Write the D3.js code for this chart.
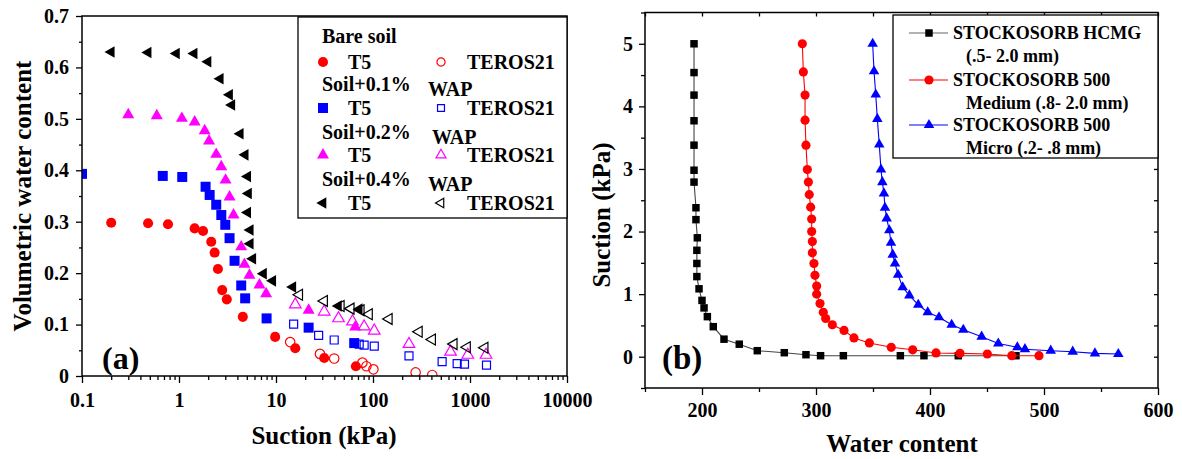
<!DOCTYPE html>
<html>
<head>
<meta charset="utf-8">
<script src="https://cdn.jsdelivr.net/npm/d3@7"></script>
<style>
  body { margin: 0; background: #fff; }
  svg { display: block; }
  text { font-family: 'Liberation Serif', 'Times New Roman', serif; font-weight: bold; fill: #000; }
  .tick text { font-size: 20px; }
</style>
</head>
<body>
<svg id="chart"></svg>
<script>
// ---- (a) suction vs volumetric water content, [suction kPa, vwc] ----
const bareT5 = [[0.2,0.298],[0.48,0.297],[0.77,0.295],[1.45,0.287],[1.77,0.282],[2.15,0.261],[2.33,0.240],[2.52,0.208],[2.79,0.167],[3.11,0.149],[4.55,0.115],[9.8,0.076],[15.8,0.054],[31.4,0.035],[66.6,0.019]]
const bareTeros = [[14,0.066],[28.4,0.043],[39.8,0.034],[77.8,0.026],[85.5,0.019],[101,0.013],[275,0.007],[408,0.002]]
const wap01T5 = [[0.1,0.393],[0.68,0.389],[1.08,0.387],[1.88,0.368],[2.07,0.352],[2.42,0.333],[2.73,0.313],[3.0,0.294],[3.32,0.268],[3.74,0.224],[4.38,0.176],[4.81,0.151],[8.0,0.112],[21.7,0.094],[64,0.064]]
const wap01Teros = [[15.2,0.101],[27.5,0.079],[39.8,0.070],[72,0.062],[81,0.060],[103,0.058],[235,0.039],[516,0.028],[737,0.024],[877,0.023],[1479,0.021]]
const wap02T5 = [[0.3,0.508],[0.59,0.506],[1.07,0.501],[1.45,0.494],[1.84,0.477],[2.04,0.457],[2.42,0.431],[2.73,0.407],[3.02,0.381],[3.32,0.348],[3.65,0.313],[4.38,0.251],[4.73,0.217],[5.33,0.196],[6.75,0.177],[7.91,0.160],[21.7,0.128],[65.5,0.095]]
const wap02Teros = [[15.8,0.139],[31.4,0.125],[44.1,0.112],[61.5,0.106],[81,0.096],[103,0.088],[235,0.062],[630,0.047],[949,0.041],[1463,0.041]]
const wap04T5 = [[0.2,0.630],[0.48,0.629],[0.94,0.627],[1.43,0.627],[1.99,0.611],[2.66,0.578],[3.32,0.547],[3.5,0.527],[4.28,0.471],[4.81,0.430],[5.1,0.388],[5.2,0.355],[5.1,0.318],[5.42,0.284],[5.42,0.257],[5.76,0.228],[7.43,0.199],[9.25,0.185],[14.9,0.173],[44,0.136],[72,0.130]]
const wap04Teros = [[17.4,0.158],[31.4,0.146],[46.7,0.136],[59.1,0.131],[75,0.128],[91.2,0.120],[146,0.111],[298,0.086],[408,0.071],[682,0.062],[934,0.056],[1420,0.055]]

const suctionTicks = [0.1, 1, 10, 100, 1000, 10000]
const vwcTicks = [0, 0.1, 0.2, 0.3, 0.4, 0.5, 0.6, 0.7]
const legendGroupsA = ["Bare soil", "Soil+0.1%", "Soil+0.2%", "Soil+0.4%"]
const sensorNames = ["T5", "TEROS21"]

// ---- (b) water content vs suction, [water content, suction kPa] ----
const hcmg = [[193,5.0],[193,4.54],[193,4.18],[193,3.77],[193,3.38],[193,2.98],[193,2.79],[194.7,2.38],[194.7,2.19],[195.9,1.90],[195.5,1.70],[195.5,1.49],[195.5,1.28],[197.4,1.085],[200,0.90],[201.8,0.78],[204.7,0.64],[209.9,0.48],[219.3,0.28],[232.7,0.20],[248.5,0.096],[272.2,0.064],[291.2,0.032],[304,0.016],[324,0.016],[374,0.016],[394.7,0.016],[424.8,0.016],[475.4,0.016]]
const medium = [[288,5.0],[288.9,4.55],[290.4,4.18],[290.4,3.78],[291.2,3.38],[292.4,2.99],[293.3,2.79],[294.1,2.59],[295.3,2.39],[296.2,2.20],[296.2,2.00],[296.8,1.84],[296.8,1.66],[298.2,1.49],[299.1,1.30],[300.6,1.13],[300.6,1.00],[303.5,0.85],[306.4,0.71],[308.5,0.61],[314.3,0.51],[324.6,0.42],[333.3,0.30],[346.8,0.22],[366,0.15],[384.8,0.11],[405.3,0.06],[426.3,0.054],[450.3,0.043],[471.7,0.016],[495.6,0.016]]
const micro = [[349.7,5.0],[350.9,4.56],[352.4,4.19],[353.8,3.80],[355.5,3.39],[357,2.99],[358.2,2.79],[359.6,2.61],[360.5,2.38],[362,2.21],[364.3,2.02],[365.8,1.82],[367.3,1.63],[369.3,1.49],[372,1.31],[376,1.11],[381.9,0.98],[389.7,0.83],[398,0.71],[407.9,0.63],[419,0.51],[429.2,0.43],[445.3,0.32],[459.9,0.21],[476.6,0.15],[483.3,0.12],[505.9,0.096],[525.2,0.08],[544.7,0.053],[565.2,0.043]]

const waterTicks = [200, 300, 400, 500, 600]
const suctionBTicks = [0, 1, 2, 3, 4, 5]
const legendNamesB = [["STOCKOSORB HCMG", "(.5- 2.0 mm)"], ["STOCKOSORB 500", "Medium (.8- 2.0 mm)"], ["STOCKOSORB 500", "Micro (.2- .8 mm)"]]

const svg = d3.select("#chart").attr("width", 1182).attr("height", 459)
svg.append("rect").attr("width", 1182).attr("height", 459).attr("fill", "#fff")

// marker helper, "left" turns the triangle to point left
function marker(g, x, y, shape, size, color, filled, left) {
    g.append("path")
        .attr("d", d3.symbol().type(shape).size(size)())
        .attr("transform", `translate(${x},${y})` + (left ? " rotate(-90)" : ""))
        .attr("fill", filled ? color : "none")
        .attr("stroke", color)
        .attr("stroke-width", filled ? 0 : 1.2)
}

function styleAxis(g) {
    g.attr("font-family", null).attr("font-size", null)
    g.selectAll("line").attr("stroke", "#000").attr("stroke-width", 1.3)
    g.select(".domain").remove()
}

// ================= chart (a) =================
const xA = d3.scaleLog().domain([0.1, 10000]).range([82, 567])
const yA = d3.scaleLinear().domain([0, 0.7]).range([376, 16])
const gA = svg.append("g")

const minorA = []
suctionTicks.slice(0, -1).forEach(d => { for (let k = 2; k < 10; k++) minorA.push(d * k) })
gA.append("g").attr("transform", "translate(0,376)")
    .call(d3.axisBottom(xA).tickValues(suctionTicks).tickFormat(d => String(d)).tickSize(7).tickPadding(10))
    .call(styleAxis)
gA.append("g").attr("transform", "translate(0,376)")
    .call(d3.axisBottom(xA).tickValues(minorA).tickFormat("").tickSize(4))
    .call(styleAxis)
gA.append("g").attr("transform", "translate(82,0)")
    .call(d3.axisLeft(yA).tickValues(vwcTicks).tickFormat(d => String(d)).tickSize(6).tickPadding(7))
    .call(styleAxis)
gA.append("g").attr("transform", "translate(82,0)")
    .call(d3.axisLeft(yA).tickValues(vwcTicks.slice(0, -1).map(d => d + 0.05)).tickFormat("").tickSize(3))
    .call(styleAxis)

gA.append("clipPath").attr("id", "clipA").append("rect")
    .attr("x", 82).attr("y", 16).attr("width", 485).attr("height", 360)

const seriesA = [
    { data: bareT5, shape: d3.symbolCircle, size: 80, color: "#ff0000", filled: true },
    { data: bareTeros, shape: d3.symbolCircle, size: 70, color: "#ff0000", filled: false },
    { data: wap01T5, shape: d3.symbolSquare, size: 100, color: "#0000ff", filled: true },
    { data: wap01Teros, shape: d3.symbolSquare, size: 64, color: "#0000ff", filled: false },
    { data: wap02T5, shape: d3.symbolTriangle, size: 62, color: "#ff00ff", filled: true },
    { data: wap02Teros, shape: d3.symbolTriangle, size: 58, color: "#ff00ff", filled: false },
    { data: wap04T5, shape: d3.symbolTriangle, size: 58, color: "#000000", filled: true, left: true },
    { data: wap04Teros, shape: d3.symbolTriangle, size: 52, color: "#000000", filled: false, left: true }
]
const pointsA = gA.append("g").attr("clip-path", "url(#clipA)")
seriesA.forEach(s => s.data.forEach(d =>
    marker(pointsA, xA(d[0]), yA(d[1]), s.shape, s.size, s.color, s.filled, s.left)))

gA.append("rect").attr("x", 82).attr("y", 16).attr("width", 485).attr("height", 360)
    .attr("fill", "none").attr("stroke", "#000").attr("stroke-width", 1.5)

// legend (a)
const legA = gA.append("g")
legA.append("rect").attr("x", 298).attr("y", 17).attr("width", 269).attr("height", 201)
    .attr("fill", "#fff").attr("stroke", "#000").attr("stroke-width", 1.3)
const groupY = [43, 91, 139, 186]
const rowY = [62, 108, 155, 203]
legendGroupsA.forEach((name, i) => {
    legA.append("text").attr("x", 322).attr("y", groupY[i]).attr("font-size", 20).text(name)
    if (i > 0) legA.append("text").attr("x", i === 2 ? 432 : 428).attr("y", groupY[i] + 5).attr("font-size", 20).text("WAP")
    const f = seriesA[i * 2], h = seriesA[i * 2 + 1]
    marker(legA, 323, rowY[i], f.shape, f.size, f.color, true, f.left)
    marker(legA, 441, rowY[i], h.shape, h.size * 0.75, h.color, false, h.left)
    legA.append("text").attr("x", 348).attr("y", rowY[i] + 7).attr("font-size", 20).text(sensorNames[0])
    legA.append("text").attr("x", 467).attr("y", rowY[i] + 7).attr("font-size", 20).text(sensorNames[1])
})

gA.append("text").attr("transform", "translate(31,196) rotate(-90)")
    .attr("text-anchor", "middle").attr("font-size", 25).text("Volumetric water content")
gA.append("text").attr("x", 324).attr("y", 444)
    .attr("text-anchor", "middle").attr("font-size", 25).text("Suction (kPa)")
gA.append("text").attr("x", 102).attr("y", 369).attr("font-size", 32).text("(a)")

// ================= chart (b) =================
const xB = d3.scaleLinear().domain([150, 600]).range([645, 1158])
const yB = d3.scaleLinear().domain([-0.5, 5.5]).range([388, 12.5])
const gB = svg.append("g")

gB.append("g").attr("transform", "translate(0,388)")
    .call(d3.axisBottom(xB).tickValues(waterTicks).tickFormat(d => String(d)).tickSize(7).tickPadding(8))
    .call(styleAxis)
gB.append("g").attr("transform", "translate(0,388)")
    .call(d3.axisBottom(xB).tickValues(waterTicks.map(d => d - 50)).tickFormat("").tickSize(4))
    .call(styleAxis)
gB.append("g").attr("transform", "translate(645,0)")
    .call(d3.axisLeft(yB).tickValues(suctionBTicks).tickFormat(d => String(d)).tickSize(6).tickPadding(6))
    .call(styleAxis)
gB.append("g").attr("transform", "translate(645,0)")
    .call(d3.axisLeft(yB).tickValues(suctionBTicks.map(d => d - 0.5).concat([5.5])).tickFormat("").tickSize(4))
    .call(styleAxis)
// mirror ticks on top and right, pointing inward
gB.append("g").attr("transform", "translate(0,12.5)")
    .call(d3.axisBottom(xB).tickValues(waterTicks.concat(waterTicks.map(d => d - 50))).tickFormat("").tickSize(4))
    .call(styleAxis)
gB.append("g").attr("transform", "translate(1158,0)")
    .call(d3.axisLeft(yB).tickValues(d3.range(0, 5.01, 0.5)).tickFormat("").tickSize(4))
    .call(styleAxis)

const seriesB = [
    { data: hcmg, shape: d3.symbolSquare, size: 56, color: "#000000", line: "#444444" },
    { data: medium, shape: d3.symbolCircle, size: 66, color: "#ff0000", line: "#ff0000" },
    { data: micro, shape: d3.symbolTriangle, size: 48, color: "#0000ff", line: "#0000ff" }
]
const line = d3.line().x(d => xB(d[0])).y(d => yB(d[1]))
seriesB.forEach(s => {
    gB.append("path").datum(s.data).attr("d", line)
        .attr("fill", "none").attr("stroke", s.line).attr("stroke-width", 1.1)
    s.data.forEach(d => marker(gB, xB(d[0]), yB(d[1]), s.shape, s.size, s.color, true))
})

gB.append("rect").attr("x", 645).attr("y", 12.5).attr("width", 513).attr("height", 375.5)
    .attr("fill", "none").attr("stroke", "#000").attr("stroke-width", 1.5)

// legend (b)
const legB = gB.append("g")
legB.append("rect").attr("x", 893).attr("y", 15).attr("width", 265).attr("height", 143)
    .attr("fill", "#fff").attr("stroke", "#000").attr("stroke-width", 1.3)
const rowB = [33, 80, 125]
legendNamesB.forEach((names, i) => {
    const s = seriesB[i]
    legB.append("line").attr("x1", 909).attr("x2", 948).attr("y1", rowB[i]).attr("y2", rowB[i])
        .attr("stroke", i === 0 ? "#666" : s.line).attr("stroke-width", 1.1)
    marker(legB, 929, rowB[i], s.shape, s.size, s.color, true)
    legB.append("text").attr("x", 953).attr("y", rowB[i] + 6).attr("font-size", 18).text(names[0])
    legB.append("text").attr("x", 966).attr("y", rowB[i] + 29).attr("font-size", 18).text(names[1])
})

gB.append("text").attr("transform", "translate(610,215) rotate(-90)")
    .attr("text-anchor", "middle").attr("font-size", 25).text("Suction (kPa)")
gB.append("text").attr("x", 902).attr("y", 452)
    .attr("text-anchor", "middle").attr("font-size", 25).text("Water content")
gB.append("text").attr("x", 662).attr("y", 369).attr("font-size", 33).text("(b)")
</script>
</body>
</html>
